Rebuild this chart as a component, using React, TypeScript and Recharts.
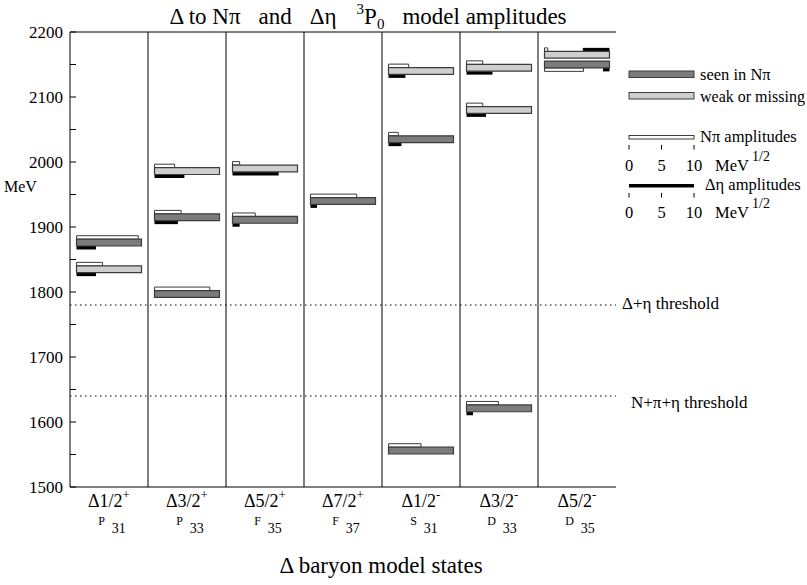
import React from 'react';
import { ComposedChart, XAxis, YAxis, ReferenceArea, ReferenceLine, Customized } from 'recharts';

// ---------- data ----------
const spins = ['1/2', '3/2', '5/2', '7/2', '1/2', '3/2', '5/2'];
const parities = ['+', '+', '+', '+', '-', '-', '-'];
const waveLetters = ['P', 'P', 'F', 'F', 'S', 'D', 'D'];
const waveIndices = ['31', '33', '35', '37', '31', '33', '35'];

// model states (column index, mass in MeV, seen in Nπ?, amplitudes in MeV^1/2)
const stateColumn = [0, 0, 1, 1, 1, 2, 2, 3, 4, 4, 4, 5, 5, 5, 6, 6];
const stateMass = [1876, 1835, 1797, 1915, 1986, 1911, 1990, 1940, 1556, 2035, 2140, 1621, 2080, 2145, 2150, 2165];
const stateSeen = [true, false, true, true, false, true, false, true, true, true, false, true, false, false, true, false];
const npiAmp = [9.5, 4.0, 8.5, 4.1, 3.1, 3.5, 1.1, 7.1, 5.0, 1.5, 3.1, 4.9, 2.5, 2.5, 6.0, 0.5];
const detaAmp = [3.0, 3.0, 0, 3.6, 4.6, 1.1, 7.1, 1.0, 0, 2.0, 2.6, 1.0, 3.0, 4.0, -1.0, -4.1];

const massTicks = [1500, 1550, 1600, 1650, 1700, 1750, 1800, 1850, 1900, 1950, 2000, 2050, 2100, 2150, 2200];
const thresholdMass = [1780, 1640];
const thresholdLabel = ['Δ+η threshold', 'N+π+η threshold'];
const scaleTicks = ['0', '5', '10'];

// ---------- styling ----------
const SERIF = "'Liberation Serif', 'Times New Roman', serif";
const FS = { fontFamily: SERIF };
const SEEN = '#7c7c7c';
const WEAK = '#cecece';
const EDGE = '#3c3c3c';
const COL = 12; // x units per column (amplitude units)
const HALF = 5.2; // half height of state bar in MeV
const AMP_H = 5.4; // amplitude bar height in MeV

const colCount = spins.length;
const xTicks = spins.map((_, i) => i * COL + COL / 2);
const columnLines = spins.slice(1).map((_, i) => (i + 1) * COL);

const LeftTick = (props: any) => {
  const { x, y, payload } = props;
  const v = payload.value;
  const ax = x + 7;
  return (
    <g>
      <line x1={ax} x2={ax + 6} y1={y} y2={y} stroke="#000" strokeWidth={1} />
      {v % 100 === 0 && (
        <text x={x} y={y + 6} textAnchor="end" style={FS} fontSize={17} fill="#000">
          {v}
        </text>
      )}
    </g>
  );
};

const RightTick = (props: any) => {
  const { x, y } = props;
  return <line x1={x - 6} x2={x} y1={y} y2={y} stroke="#000" strokeWidth={1} />;
};

const StateTick = (props: any) => {
  const { x, y, payload } = props;
  const i = Math.round((payload.value - COL / 2) / COL);
  return (
    <g fill="#000">
      <text x={x} y={y + 20} textAnchor="middle" fontSize={18} style={FS} fill="#000">
        {'Δ' + spins[i]}
        <tspan dy={-8} fontSize={13}>{parities[i]}</tspan>
      </text>
      <text x={x + 3} y={y + 38} textAnchor="middle" fontSize={12} style={FS} fill="#000">
        {waveLetters[i]}
        <tspan dx={7} dy={8} fontSize={14}>{waveIndices[i]}</tspan>
      </text>
    </g>
  );
};

const ThresholdLabel = (props: any) => {
  const { viewBox, text, dx, dy } = props;
  if (!viewBox) return null;
  return (
    <text x={viewBox.x + viewBox.width + dx} y={viewBox.y + dy} style={FS} fontSize={17} fill="#000">
      {text}
    </text>
  );
};

const T = (p: any) => <text {...p} style={FS} fill="#000" />;

const Annotations = () => (
  <g>
    <T x={368} y={24} textAnchor="middle" fontSize={23}>
      <tspan>Δ to Nπ</tspan>
      <tspan dx={18}>and</tspan>
      <tspan dx={18}>Δη</tspan>
      <tspan dx={20} dy={-10} fontSize={15}>3</tspan>
      <tspan dy={10}>P</tspan>
      <tspan dy={5} fontSize={15}>0</tspan>
      <tspan dx={18} dy={-5}>model amplitudes</tspan>
    </T>
    <T x={4} y={192} fontSize={16}>MeV</T>
    <T x={381} y={573} textAnchor="middle" fontSize={23}>Δ baryon model states</T>

    {/* legend */}
    <rect x={629} y={71} width={65} height={6.5} fill={SEEN} stroke={EDGE} strokeWidth={1} />
    <T x={700} y={80} fontSize={16.5}>seen in Nπ</T>
    <rect x={629} y={92.5} width={65} height={6.5} fill={WEAK} stroke={EDGE} strokeWidth={1} />
    <T x={700} y={102} fontSize={16}>weak or missing</T>
    <rect x={629} y={135.5} width={65} height={3.5} fill="#fff" stroke={EDGE} strokeWidth={1} />
    <T x={700} y={142} fontSize={16.5}>Nπ amplitudes</T>
    {scaleTicks.map((t, k) => (
      <g key={'a' + t}>
        <line x1={629 + k * 32.5} x2={629 + k * 32.5} y1={145} y2={149.5} stroke="#000" />
        <T x={629 + k * 32.5} y={171} textAnchor="middle" fontSize={16.5}>{t}</T>
      </g>
    ))}
    <T x={715} y={171} fontSize={16.5}>MeV</T>
    <T x={752} y={161} fontSize={14}>1/2</T>
    <rect x={629} y={184} width={65} height={3.5} fill="#000" />
    <T x={705} y={190} fontSize={16.5}>Δη amplitudes</T>
    {scaleTicks.map((t, k) => (
      <g key={'b' + t}>
        <line x1={629 + k * 32.5} x2={629 + k * 32.5} y1={193} y2={197.5} stroke="#000" />
        <T x={629 + k * 32.5} y={218} textAnchor="middle" fontSize={16.5}>{t}</T>
      </g>
    ))}
    <T x={715} y={218} fontSize={16.5}>MeV</T>
    <T x={752} y={208} fontSize={14}>1/2</T>
  </g>
);

function buildBoxes() {
  const amps: React.ReactNode[] = [];
  const mains: React.ReactNode[] = [];
  stateMass.forEach((m, i) => {
    const col = stateColumn[i];
    const left = col * COL + 1;
    const right = col * COL + 11;
    let side = 'split';
    stateMass.forEach((m2, j) => {
      if (j !== i && stateColumn[j] === col && Math.abs(m2 - m) < 25) side = m2 < m ? 'above' : 'below';
    });
    const top: [number, number] = [m + HALF, m + HALF + AMP_H];
    const bot: [number, number] = [m - HALF - AMP_H, m - HALF];
    const npiBand = side === 'below' ? bot : top;
    const etaBand = side === 'above' ? top : bot;
    const span = (a: number): [number, number] => (a >= 0 ? [left, left + a] : [right + a, right]);
    if (npiAmp[i] !== 0) {
      const [a, b] = span(npiAmp[i]);
      amps.push(
        <ReferenceArea key={'n' + i} x1={a} x2={b} y1={npiBand[0]} y2={npiBand[1]} fill="#fff" fillOpacity={1} stroke={EDGE} strokeWidth={1} />
      );
    }
    if (detaAmp[i] !== 0) {
      const [a, b] = span(detaAmp[i]);
      amps.push(
        <ReferenceArea key={'e' + i} x1={a} x2={b} y1={etaBand[0]} y2={etaBand[1]} fill="#000" fillOpacity={1} stroke="none" />
      );
    }
    mains.push(
      <ReferenceArea key={'m' + i} x1={left} x2={right} y1={m - HALF} y2={m + HALF} fill={stateSeen[i] ? SEEN : WEAK} fillOpacity={1} stroke={EDGE} strokeWidth={1.2} />
    );
  });
  return [...amps, ...mains];
}

export default function App() {
  return (
    <div style={{ position: 'absolute', left: 0, top: 0, width: 807, height: 585, background: '#fff', fontFamily: SERIF }}>
      <ComposedChart width={807} height={585} data={[]} margin={{ top: 32, right: 191, bottom: 0, left: 8 }} style={FS}>
        <XAxis
          type="number"
          dataKey="x"
          domain={[0, colCount * COL]}
          ticks={xTicks}
          interval={0}
          tick={<StateTick />}
          tickLine={false}
          tickSize={0}
          tickMargin={0}
          height={98}
          axisLine={{ stroke: '#000', strokeWidth: 1 }}
          allowDataOverflow
        />
        <YAxis
          type="number"
          domain={[1500, 2200]}
          ticks={massTicks}
          interval={0}
          tick={<LeftTick />}
          tickLine={false}
          tickSize={0}
          tickMargin={7}
          width={62}
          axisLine={{ stroke: '#000', strokeWidth: 1 }}
          allowDataOverflow
        />
        <YAxis
          yAxisId="right"
          orientation="right"
          type="number"
          domain={[1500, 2200]}
          ticks={massTicks}
          interval={0}
          tick={<RightTick />}
          tickLine={false}
          tickSize={0}
          tickMargin={0}
          width={0}
          axisLine={{ stroke: '#000', strokeWidth: 1 }}
          allowDataOverflow
        />
        <ReferenceLine y={2200} stroke="#000" strokeWidth={1} />
        {columnLines.map((x) => (
          <ReferenceLine key={'c' + x} x={x} stroke="#000" strokeWidth={1} />
        ))}
        {thresholdMass.map((m, k) => (
          <ReferenceLine
            key={'t' + m}
            y={m}
            stroke="#000"
            strokeWidth={1}
            strokeDasharray="1.5 3.5"
            label={<ThresholdLabel text={thresholdLabel[k]} dx={k === 0 ? 6 : 15} dy={k === 0 ? 4 : 12} />}
          />
        ))}
        {buildBoxes()}
        <Customized component={Annotations} />
      </ComposedChart>
    </div>
  );
}
